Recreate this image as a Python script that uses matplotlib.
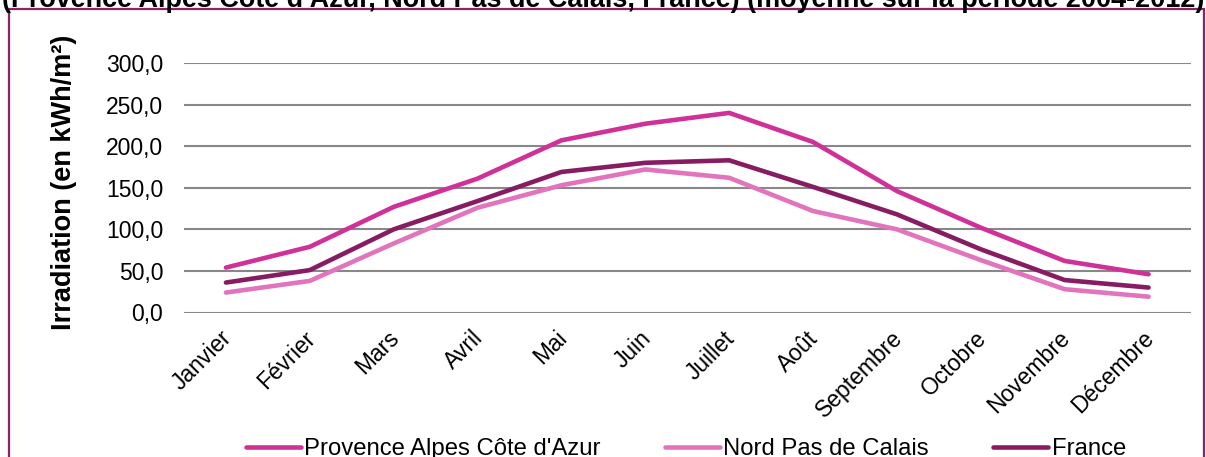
import matplotlib
matplotlib.use("Agg")
import matplotlib.pyplot as plt
from matplotlib.patches import Rectangle
import matplotlib.transforms as mtransforms

plt.rcParams['font.family'] = ['Liberation Sans', 'DejaVu Sans']

months = ["Janvier", "Février", "Mars", "Avril", "Mai", "Juin", "Juillet",
          "Août", "Septembre", "Octobre", "Novembre", "Décembre"]
paca = [54, 79, 127, 161, 207, 227, 240, 205, 146, 102, 62, 46]
nord = [24, 38, 83, 126, 153, 172, 162, 122, 100, 63, 28, 19]
france = [36, 51, 100, 134, 169, 180, 183, 151, 118, 76, 39, 30]
series_names = ["Provence Alpes Côte d'Azur", "Nord Pas de Calais", "France"]
yticks = [0, 50, 100, 150, 200, 250, 300]
title = "(Provence Alpes Côte d'Azur, Nord Pas de Calais, France) (moyenne sur la période 2004-2012)"
ylabel = "Irradiation (en kWh/m²)"

colors = ["#CF3198", "#E274BD", "#871C62"]

W, H = 1206, 457
fig = plt.figure(figsize=(W / 100, H / 100), dpi=100)
ax = fig.add_axes([184 / W, 1 - 312.5 / H, (1190.5 - 184) / W, (312.5 - 63) / H])

x = list(range(len(months)))
for vals, name, c in zip([paca, nord, france], series_names, colors):
    ax.plot(x, vals, color=c, lw=3.3, label=name, solid_capstyle='round',
            solid_joinstyle='round')

ax.set_xlim(-0.5, len(months) - 0.5)
ax.set_ylim(0, 300)
ax.set_yticks(yticks)
ax.set_yticklabels([f"{v:.1f}".replace(".", ",") for v in yticks], fontsize=16.5)
ax.yaxis.grid(True, color="#888888", lw=1.5)
ax.set_axisbelow(True)
for s in ax.spines.values():
    s.set_visible(False)
ax.tick_params(axis='y', length=0, pad=15)
ax.tick_params(axis='x', length=0, pad=16)
ax.set_xticks(x)
ax.set_xticklabels(months, rotation=45, ha='right', va='center',
                   rotation_mode='anchor', fontsize=16.5)
shift = mtransforms.ScaledTranslation(2 / 100, 0, fig.dpi_scale_trans)
for lab in ax.get_xticklabels():
    lab.set_transform(lab.get_transform() + shift)

ax.set_ylabel(ylabel, fontsize=19.5, fontweight='bold')
ax.yaxis.set_label_coords(-0.106, 0.52)

leg = fig.legend(loc='center', bbox_to_anchor=(686 / W, 1 - 449 / H), ncol=3,
                 frameon=False, fontsize=17.2, handlelength=2.3,
                 handletextpad=0.13, columnspacing=2.7, borderaxespad=0,
                 borderpad=0)

fig.text(0.5, 1 - 7 / H, title, ha='center', va='baseline', fontsize=19.45,
         fontweight='bold')

fig.patches.append(Rectangle((9 / W, -0.1), (1203.5 - 9) / W, 1.1 - 9 / H,
                             transform=fig.transFigure, fill=False,
                             edgecolor="#8B2368", lw=1.6, clip_on=False))

fig.savefig("out.png", dpi=100)
